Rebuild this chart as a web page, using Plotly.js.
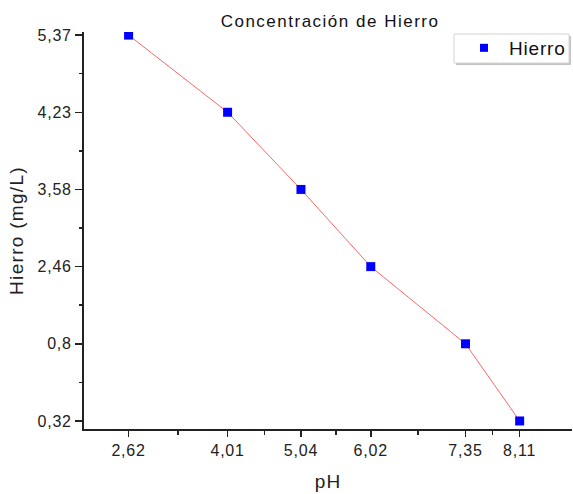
<!DOCTYPE html>
<html>
<head>
<meta charset="utf-8">
<script src="https://cdn.plot.ly/plotly-3.0.1.min.js"></script>
<style>
html,body{margin:0;padding:0;background:#fff;}
#chart{width:573px;height:494px;}
.gtitle{letter-spacing:1.5px;}
.xtick text,.ytick text{letter-spacing:0.8px;}
.legendtext{letter-spacing:0.8px;}
.xtitle{letter-spacing:1px;}
.ytitle{letter-spacing:1.3px;}
</style>
</head>
<body>
<div id="chart"></div>
<script>
const titleText = "Concentración de Hierro";
const seriesName = "Hierro";
const pH = [2.62, 4.01, 5.04, 6.02, 7.35, 8.11];
const hierro = [5.37, 4.23, 3.58, 2.46, 0.8, 0.32];
const xTickLabels = ["2,62", "4,01", "5,04", "6,02", "7,35", "8,11"];
const yCategoryOrder = ["0,32", "0,8", "2,46", "3,58", "4,23", "5,37"];

const toLabel = v => String(v).replace('.', ',');
const hierroLabels = hierro.map(toLabel);

const trace = {
  x: pH,
  y: hierroLabels,
  type: 'scatter',
  mode: 'lines+markers',
  name: seriesName,
  line: {color: 'rgba(255,50,50,0.75)', width: 1},
  marker: {symbol: 'square', size: 9, color: '#0000ff'},
  showlegend: false
};
const legendTrace = {
  x: [null], y: [null], type: 'scatter', mode: 'markers', name: seriesName,
  marker: {symbol: 'square', size: 8, color: '#0000ff'},
  showlegend: true
};
const minorTrace = {
  x: [null], y: [null], yaxis: 'y2', type: 'scatter', mode: 'markers', showlegend: false
};

const font = "Arial, 'Liberation Sans', sans-serif";
const yRange = [-0.104, 5.04];
const layout = {
  width: 573, height: 494,
  margin: {l: 84, r: 1, t: 32, b: 65},
  paper_bgcolor: '#fff', plot_bgcolor: '#fff',
  font: {family: font, color: '#111', size: 15},
  title: {text: titleText, font: {family: font, size: 17, color: '#111'}, x: 0.576, xanchor: 'center', y: 0.957, yanchor: 'middle'},
  xaxis: {
    type: 'linear', range: [1.994, 8.845],
    tickmode: 'array', tickvals: pH, ticktext: xTickLabels,
    ticks: 'outside', ticklen: 6, tickwidth: 1.5, tickcolor: '#222',
    showline: true, linecolor: '#222', linewidth: 2,
    showgrid: false, zeroline: false,
    tickfont: {size: 16, color: '#222'},
    title: {text: 'pH', font: {size: 19, color: '#222'}, standoff: 16},
    minor: {tickmode: 'array', tickvals: pH.slice(1).map((v, i) => (v + pH[i]) / 2), ticks: 'outside', ticklen: 4, tickwidth: 1.5, tickcolor: '#222', showgrid: false}
  },
  yaxis: {
    type: 'category', categoryorder: 'array', categoryarray: yCategoryOrder,
    range: yRange,
    ticks: 'outside', ticklen: 7, tickwidth: 1.5, tickcolor: '#222',
    showline: true, linecolor: '#222', linewidth: 2,
    showgrid: false, zeroline: false,
    tickfont: {size: 16, color: '#222'},
    title: {text: 'Hierro (mg/L)', font: {size: 19, color: '#222'}, standoff: 9}
  },
  yaxis2: {
    overlaying: 'y', side: 'left', anchor: 'x', type: 'linear', range: yRange,
    tickmode: 'array', tickvals: yCategoryOrder.slice(1).map((_, i) => i + 0.5),
    ticks: 'outside', ticklen: 4, tickwidth: 1.5, tickcolor: '#222',
    showticklabels: false, showline: false, showgrid: false, zeroline: false
  },
  legend: {
    x: 0.998, xanchor: 'right', y: 1.0076, yanchor: 'top',
    bgcolor: 'rgba(0,0,0,0)', borderwidth: 0,
    font: {size: 19, color: '#111'}, itemwidth: 40
  },
  shapes: [
    {type: 'rect', xref: 'paper', yref: 'paper', x0: 0.7623, x1: 0.998, y0: 0.9169, y1: 0.9899,
     line: {width: 0}, fillcolor: '#c4c4c4', layer: 'above'},
    {type: 'rect', xref: 'paper', yref: 'paper', x0: 0.7582, x1: 0.9939, y0: 0.9219, y1: 0.995,
     line: {width: 1, color: '#d4d4d4'}, fillcolor: '#ffffff', layer: 'above'}
  ],
  showlegend: true
};

Plotly.newPlot('chart', [trace, legendTrace, minorTrace], layout, {displayModeBar: false, staticPlot: true});
</script>
</body>
</html>
